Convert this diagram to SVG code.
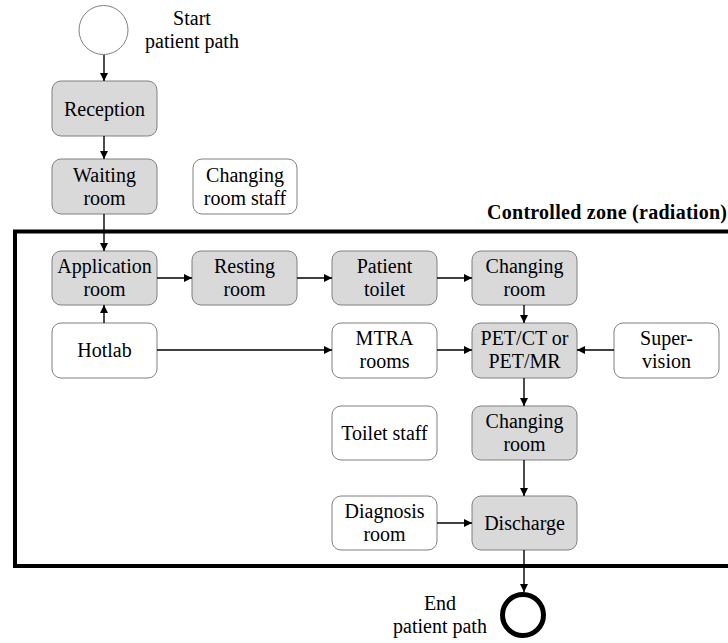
<svg xmlns="http://www.w3.org/2000/svg" width="728" height="643" viewBox="0 0 728 643">
<style>
text{font-family:"Liberation Serif","Times New Roman",serif;font-size:20px;fill:#000;text-anchor:middle}
.b{fill:#fff;stroke:#808080;stroke-width:1}
.g{fill:#d9d9d9;stroke:#808080;stroke-width:1}
.c{stroke:#000;stroke-width:1.4;fill:none;marker-end:url(#ah)}
</style>
<defs>
<marker id="ah" viewBox="0 0 10 10" refX="10" refY="5" markerWidth="9" markerHeight="8" markerUnits="userSpaceOnUse" orient="auto">
<path d="M0,0 L10,5 L0,10 Z" fill="#000"/>
</marker>
</defs>
<rect fill="#fff" width="728" height="643"/>
<g id="zone">
<rect x="15" y="231.5" width="730" height="334.5" fill="none" stroke="#000" stroke-width="4"/>
<text x="727" y="219" font-weight="bold" style="text-anchor:end" textLength="240">Controlled zone (radiation)</text>
</g>
<g id="start">
<circle cx="103.5" cy="30" r="24.5" fill="#fff" stroke="#808080" stroke-width="1"/>
<text x="192" y="25">Start</text>
<text x="192" y="48">patient path</text>
</g>
<g id="end">
<circle cx="523" cy="615" r="20.5" fill="#fff" stroke="#000" stroke-width="5"/>
<text x="440" y="610">End</text>
<text x="440" y="633">patient path</text>
</g>
<g id="reception"><rect class="g" x="52" y="81" width="105" height="55" rx="9"/><text x="104.5" y="115.5">Reception</text></g>
<g id="waiting"><rect class="g" x="52" y="159" width="105" height="55" rx="9"/><text x="104.5" y="182">Waiting</text><text x="104.5" y="205">room</text></g>
<g id="changingstaff"><rect class="b" x="193" y="159" width="104" height="55" rx="9"/><text x="245" y="182">Changing</text><text x="245" y="205">room staff</text></g>
<g id="application"><rect class="g" x="52" y="251" width="105" height="54" rx="9"/><text x="104.5" y="273">Application</text><text x="104.5" y="296">room</text></g>
<g id="resting"><rect class="g" x="192" y="251" width="105" height="54" rx="9"/><text x="244.5" y="273">Resting</text><text x="244.5" y="296">room</text></g>
<g id="patienttoilet"><rect class="g" x="332" y="251" width="105" height="54" rx="9"/><text x="384.5" y="273">Patient</text><text x="384.5" y="296">toilet</text></g>
<g id="changing1"><rect class="g" x="472" y="251" width="105" height="54" rx="9"/><text x="524.5" y="273">Changing</text><text x="524.5" y="296">room</text></g>
<g id="hotlab"><rect class="b" x="52" y="323" width="105" height="55" rx="9"/><text x="104.5" y="357">Hotlab</text></g>
<g id="mtra"><rect class="b" x="332" y="323" width="105" height="55" rx="9"/><text x="384.5" y="345">MTRA</text><text x="384.5" y="368">rooms</text></g>
<g id="pet"><rect class="g" x="472" y="323" width="105" height="55" rx="9"/><text x="524.5" y="345">PET/CT or</text><text x="524.5" y="368">PET/MR</text></g>
<g id="supervision"><rect class="b" x="614" y="323" width="105" height="55" rx="9"/><text x="666.5" y="345">Super-</text><text x="666.5" y="368">vision</text></g>
<g id="toiletstaff"><rect class="b" x="332" y="406" width="105" height="54" rx="9"/><text x="384.5" y="440">Toilet staff</text></g>
<g id="changing2"><rect class="g" x="472" y="406" width="105" height="54" rx="9"/><text x="524.5" y="428">Changing</text><text x="524.5" y="451">room</text></g>
<g id="diagnosis"><rect class="b" x="332" y="496" width="105" height="54" rx="9"/><text x="384.5" y="518">Diagnosis</text><text x="384.5" y="541">room</text></g>
<g id="discharge"><rect class="g" x="472" y="496" width="105" height="54" rx="9"/><text x="524.5" y="530">Discharge</text></g>
<g id="connectors">
<line class="c" x1="104" y1="55" x2="104" y2="81"/>
<line class="c" x1="104" y1="136" x2="104" y2="159"/>
<line class="c" x1="104" y1="214" x2="104" y2="251"/>
<line class="c" x1="104" y1="323" x2="104" y2="305"/>
<line class="c" x1="157" y1="278" x2="192" y2="278"/>
<line class="c" x1="297" y1="278" x2="332" y2="278"/>
<line class="c" x1="437" y1="278" x2="472" y2="278"/>
<line class="c" x1="524" y1="305" x2="524" y2="323"/>
<line class="c" x1="157" y1="350" x2="332" y2="350"/>
<line class="c" x1="437" y1="350" x2="472" y2="350"/>
<line class="c" x1="614" y1="350" x2="577" y2="350"/>
<line class="c" x1="524" y1="378" x2="524" y2="406"/>
<line class="c" x1="524" y1="460" x2="524" y2="496"/>
<line class="c" x1="437" y1="523" x2="472" y2="523"/>
<line class="c" x1="524" y1="550" x2="524" y2="592"/>
</g>
</svg>
